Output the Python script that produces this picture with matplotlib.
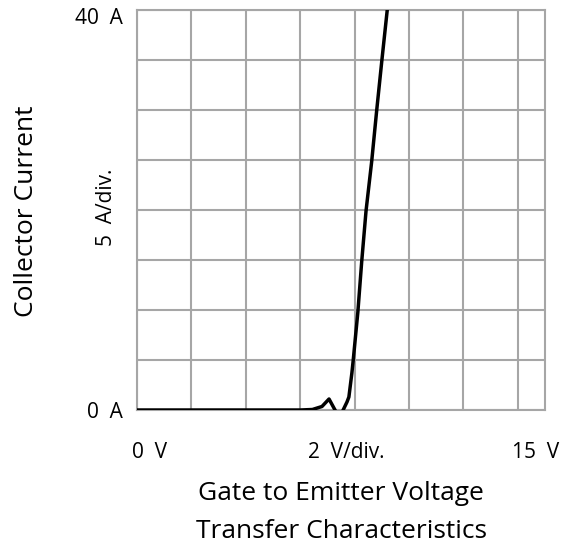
import matplotlib
matplotlib.use("Agg")
import matplotlib.pyplot as plt
import numpy as np

plt.rcParams['font.family'] = ['Open Sans', 'DejaVu Sans']

# gate-emitter voltage (V) vs collector current (A)
vge = [0.0, 6.0, 6.45, 6.8, 7.06, 7.2, 7.3, 7.45, 7.57, 7.72, 7.79, 7.9, 7.95, 8.12, 8.26, 8.42, 8.63, 8.81, 9.0, 9.2, 9.5]
ic = [0.0, 0.0, 0.05, 0.35, 1.1, 0.4, -0.1, -0.6, -0.05, 0.8, 1.3, 3.7, 5.0, 9.8, 14.8, 19.9, 24.9, 29.9, 34.9, 40.0, 46.0]

W, H = 572, 554
fig = plt.figure(figsize=(W / 100, H / 100), dpi=100)
ax = fig.add_axes([137 / W, 1 - 410 / H, 408 / W, 400 / H])

ax.plot(vge, ic, color="black", lw=2.5, zorder=3)
ax.set_xlim(0, 15)
ax.set_ylim(0, 40)
ax.set_xticks(np.arange(0, 15, 2))
ax.set_yticks(np.arange(0, 41, 5))
ax.grid(True, color="#a6a6a6", lw=1.5)
ax.tick_params(length=0, labelbottom=False, labelleft=False)
for s in ax.spines.values():
    s.set_color("#a6a6a6")
    s.set_linewidth(1.5)

def px(x, y, s, ha="center", **kw):
    fig.text(x / W, 1 - y / H, s, ha=ha, va="center", **kw)

px(123, 18, "40  A", ha="right", fontsize=15)
px(123, 412, "0  A", ha="right", fontsize=15)
px(106, 207, "5  A/div.", fontsize=15, rotation=90)
px(27, 211, "Collector Current", fontsize=19, rotation=90)
px(150, 452, "0  V", fontsize=15)
px(346, 452, "2  V/div.", fontsize=15)
px(536, 452, "15  V", fontsize=15)
px(341, 494, "Gate to Emitter Voltage", fontsize=19)
px(341, 531, "Transfer Characteristics", fontsize=19)

fig.savefig("out.png", dpi=100)
